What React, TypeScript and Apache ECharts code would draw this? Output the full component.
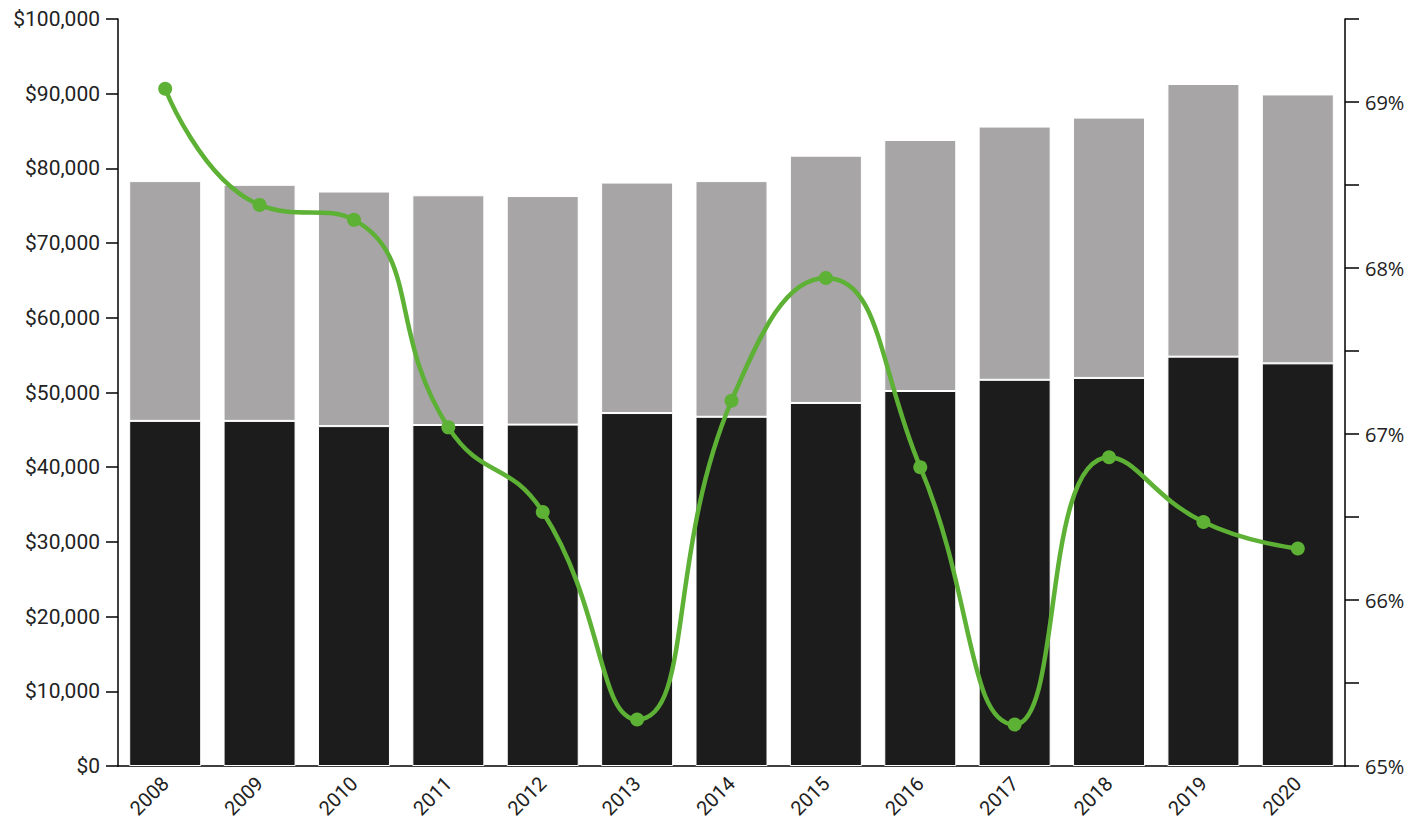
import React, { useEffect, useRef } from "react";
import * as echarts from "echarts";

const years = ["2008","2009","2010","2011","2012","2013","2014","2015","2016","2017","2018","2019","2020"];
const blackValues = [46200, 46200, 45500, 45650, 45700, 47250, 46750, 48600, 50200, 51700, 51950, 54800, 53900];
const totalValues = [78300, 77800, 76900, 76400, 76300, 78100, 78300, 81700, 83800, 85600, 86800, 91300, 89900];
const grayValues = totalValues.map((t, i) => t - blackValues[i]);
const percentValues = [69.08, 68.38, 68.29, 67.04, 66.53, 65.28, 67.2, 67.94, 66.8, 65.25, 66.86, 66.47, 66.31];

export default function App() {
  const ref = useRef<HTMLDivElement>(null);
  useEffect(() => {
    if (!ref.current) return;
    const chart = echarts.init(ref.current, undefined, { renderer: "svg" });
    chart.setOption({
      animation: false,
      backgroundColor: "#ffffff",
      grid: { left: 110, right: 69, top: 11, bottom: 54, containLabel: false, outerBoundsMode: "none" },
      xAxis: {
        type: "category",
        data: years,
        axisLine: { lineStyle: { color: "#000", width: 1.5 } },
        axisTick: { alignWithLabel: true, length: 12, lineStyle: { color: "#000", width: 1.5 } },
        axisLabel: { rotate: 45, fontFamily: "Roboto", fontSize: 20, color: "#222", margin: 14 },
      },
      yAxis: [
        {
          type: "value",
          min: 0,
          max: 100000,
          interval: 10000,
          position: "left",
          axisLine: { show: true, lineStyle: { color: "#000", width: 1.5 } },
          axisTick: { show: true, length: 12, lineStyle: { color: "#000", width: 1.5 } },
          splitLine: { show: false },
          axisLabel: {
            fontFamily: "Roboto",
            fontSize: 21,
            color: "#222",
            margin: 18,
            formatter: (v: number) => "$" + v.toLocaleString("en-US"),
          },
        },
        {
          type: "value",
          min: 65,
          max: 69.5,
          interval: 0.5,
          position: "right",
          axisLine: { show: true, lineStyle: { color: "#000", width: 1.5 } },
          axisTick: { show: true, length: 14, lineStyle: { color: "#000", width: 1.5 } },
          splitLine: { show: false },
          axisLabel: {
            fontFamily: "Open Sans",
            fontSize: 20,
            color: "#222",
            margin: 20,
            formatter: (v: number) => (Math.abs(v - Math.round(v)) < 1e-6 && v < 69.5 ? Math.round(v) + "%" : ""),
          },
        },
      ],
      series: [
        {
          type: "bar",
          stack: "total",
          data: blackValues,
          barWidth: 72,
          itemStyle: { color: "#1c1c1c", borderColor: "#ffffff", borderWidth: 1 },
        },
        {
          type: "bar",
          stack: "total",
          data: grayValues,
          barWidth: 72,
          itemStyle: { color: "#a7a5a6", borderColor: "#ffffff", borderWidth: 1 },
        },
        {
          type: "line",
          yAxisIndex: 1,
          data: percentValues,
          smooth: 0.5,
          symbol: "circle",
          symbolSize: 14,
          lineStyle: { color: "#5db135", width: 4.5 },
          itemStyle: { color: "#5db135" },
          z: 5,
        },
      ],
    });
    return () => chart.dispose();
  }, []);
  return <div ref={ref} style={{ width: 1406, height: 812 }} />;
}
